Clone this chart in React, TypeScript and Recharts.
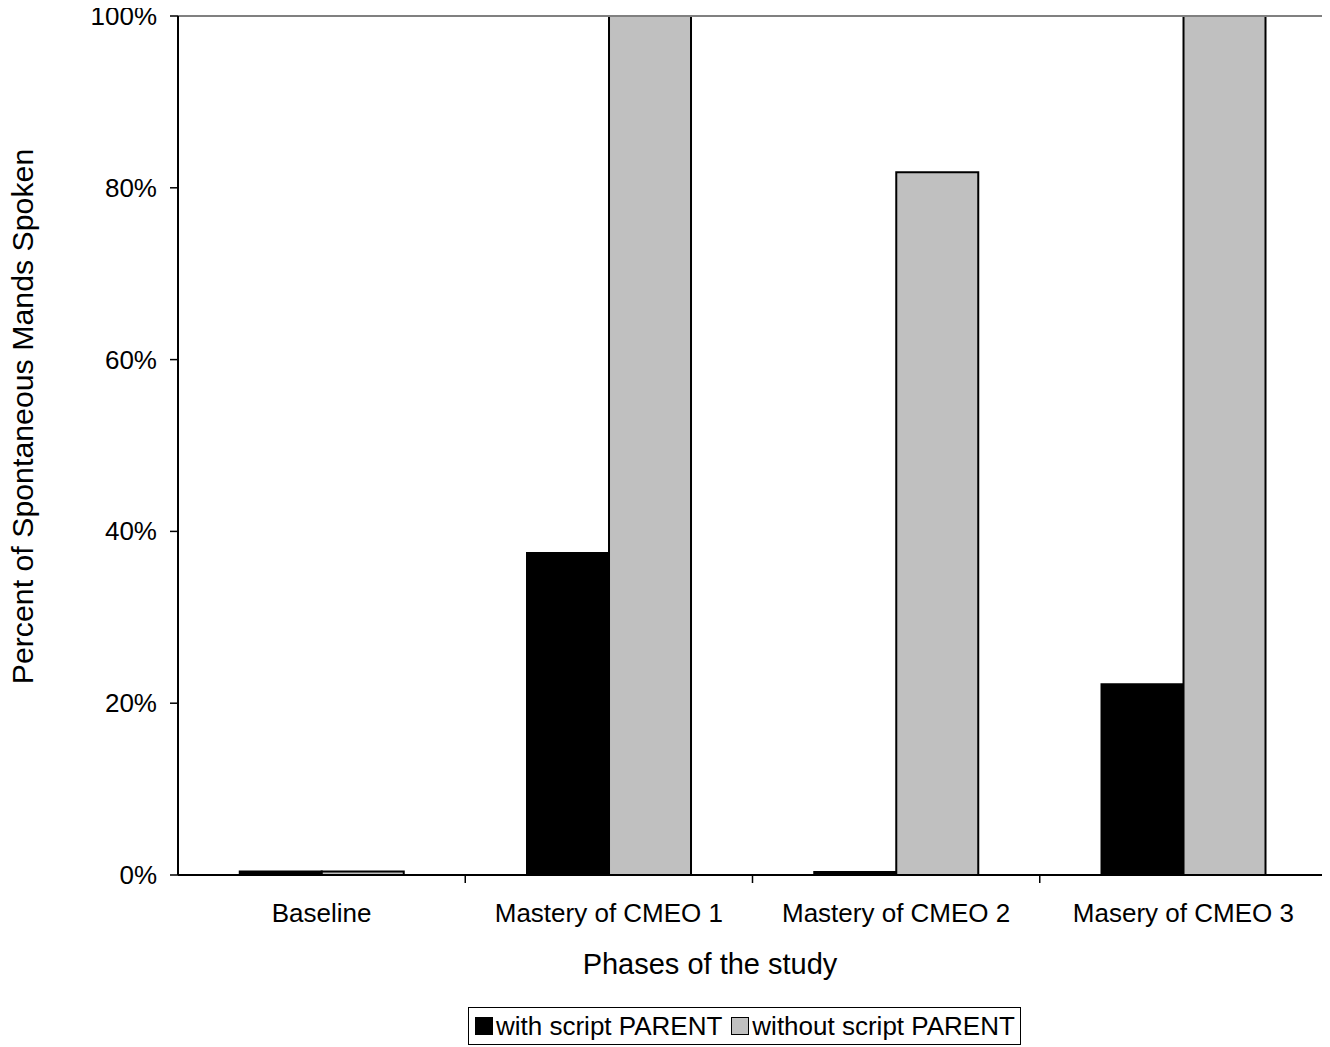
import React from 'react';
import { BarChart, Bar, XAxis, YAxis, Legend, ReferenceLine } from 'recharts';

const categories = ['Baseline', 'Mastery of CMEO 1', 'Mastery of CMEO 2', 'Masery of CMEO 3'];
const withScript = [0.4, 37.5, 0.35, 22.2];
const withoutScript = [0.4, 100, 81.8, 100];
const yTicks = [0, 20, 40, 60, 80, 100];
const seriesNames = ['with script PARENT', 'without script PARENT'];
const seriesColors = ['#000000', '#c0c0c0'];

const data = categories.map((c, i) => ({ name: c, with: withScript[i], without: withoutScript[i] }));

const FONT = '"Liberation Sans", Arial, sans-serif';

const XTick = (props: any) => {
  const { x, y, payload, index } = props;
  const half = payload && payload.offset ? payload.offset : 143.6;
  return (
    <g>
      <text x={x} y={y + 47} textAnchor="middle" fontSize={26} fontFamily={FONT} fill="#000">
        {payload.value}
      </text>
      {index > 0 && <line x1={x - half} x2={x - half} y1={y} y2={y + 8} stroke="#000" strokeWidth={1.5} />}
    </g>
  );
};

const YTick = (props: any) => {
  const { x, y, payload } = props;
  return (
    <text x={x} y={y} dy={9} textAnchor="end" fontSize={26} fontFamily={FONT} fill="#000">
      {`${payload.value}%`}
    </text>
  );
};

const LegendContent = () => (
  <div
    style={{
      boxSizing: 'border-box',
      width: 553,
      height: 38,
      border: '1px solid #000',
      background: '#fff',
      display: 'flex',
      alignItems: 'center',
      paddingLeft: 6,
      fontFamily: FONT,
      fontSize: 26,
      color: '#000',
      whiteSpace: 'nowrap',
    }}
  >
    {seriesNames.map((n, i) => (
      <div key={n} style={{ display: 'flex', alignItems: 'center', marginRight: i === 0 ? 9 : 0 }}>
        <span
          style={{
            display: 'inline-block',
            boxSizing: 'border-box',
            width: 18,
            height: 18,
            background: seriesColors[i],
            border: '1.5px solid #000',
            marginRight: 3,
          }}
        />
        <span>{n}</span>
      </div>
    ))}
  </div>
);

export default function App() {
  return (
    <div style={{ width: 1330, height: 1047, background: '#fff', margin: '-8px 0 0 -8px' }}>
      <BarChart
        width={1330}
        height={1047}
        data={data}
        margin={{ top: 16, right: 3, left: 8, bottom: 62 }}
        barCategoryGap="21.5%"
        barGap={0}
      >
        <XAxis
          dataKey="name"
          height={110}
          tickLine={false}
          tickSize={0}
          tickMargin={0}
          axisLine={{ stroke: '#000', strokeWidth: 2 }}
          tick={<XTick />}
          interval={0}
          label={{
            content: () => (
              <text x={710} y={974} textAnchor="middle" fontSize={29} fontFamily={FONT} fill="#000">
                Phases of the study
              </text>
            ),
          }}
        />
        <YAxis
          width={170}
          domain={[0, 100]}
          ticks={yTicks}
          interval={0}
          tickSize={8}
          tickMargin={13}
          tick={<YTick />}
          axisLine={{ stroke: '#000', strokeWidth: 2 }}
          tickLine={{ stroke: '#000', strokeWidth: 1.5 }}
          label={{
            content: () => (
              <text
                x={33}
                y={416.5}
                textAnchor="middle"
                fontSize={30.3}
                fontFamily={FONT}
                fill="#000"
                transform="rotate(-90 33 416.5)"
              >
                Percent of Spontaneous Mands Spoken
              </text>
            ),
          }}
        />
        <YAxis
          yAxisId="r"
          orientation="right"
          width={0}
          domain={[0, 100]}
          tick={false}
          tickLine={false}
          axisLine={{ stroke: '#808080', strokeWidth: 2 }}
        />
        <ReferenceLine y={100} stroke="#808080" strokeWidth={2} />
        <Legend
          layout="vertical"
          align="center"
          verticalAlign="middle"
          wrapperStyle={{ position: 'absolute', left: 468, top: 1007, width: 553, height: 38 }}
          content={<LegendContent />}
        />
        <Bar dataKey="with" name={seriesNames[0]} fill={seriesColors[0]} stroke="#000" strokeWidth={2} isAnimationActive={false} />
        <Bar dataKey="without" name={seriesNames[1]} fill={seriesColors[1]} stroke="#000" strokeWidth={2} isAnimationActive={false} />
      </BarChart>
    </div>
  );
}
